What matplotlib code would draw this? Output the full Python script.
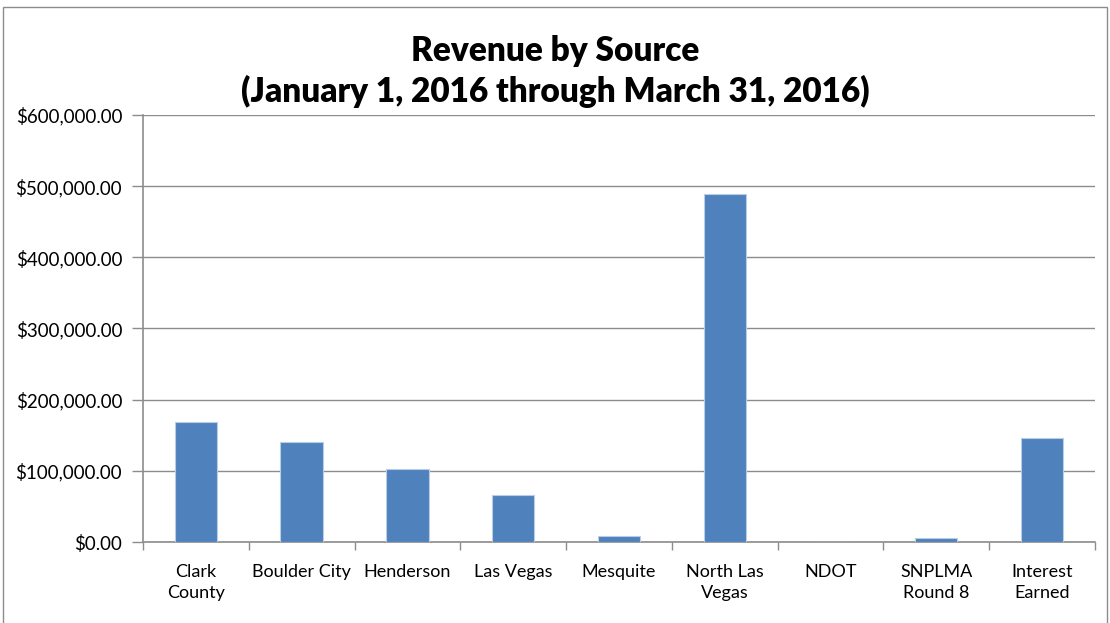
"""Revenue by source, Jan 1 - Mar 31 2016 (Excel-style column chart)."""

import matplotlib.pyplot as plt
import numpy as np
from matplotlib.patches import Rectangle
from matplotlib.ticker import FuncFormatter, MultipleLocator

SOURCES = [
    "Clark\nCounty",
    "Boulder City",
    "Henderson",
    "Las Vegas",
    "Mesquite",
    "North Las\nVegas",
    "NDOT",
    "SNPLMA\nRound 8",
    "Interest\nEarned",
]
REVENUE = [168000, 141000, 102000, 66500, 8500, 489000, 0, 5200, 145800]

TITLE = "Revenue by Source\n(January 1, 2016 through March 31, 2016)"

BAR_COLOR = "#4f81bd"
GRID_COLOR = "#8c8c8c"

plt.rcParams["font.family"] = ["Lato", "DejaVu Sans"]


def money(value, _pos):
    return f"${value:,.2f}"


def main() -> None:
    fig = plt.figure(figsize=(11.1, 6.23), dpi=100)
    ax = fig.add_axes((0.1288, 0.130, 0.8577, 0.6855))

    x = np.arange(len(SOURCES))
    ax.bar(x, REVENUE, width=0.4, color=BAR_COLOR, edgecolor="#b9cde5",
           linewidth=0.8, zorder=3)

    ax.set_xlim(-0.5, len(SOURCES) - 0.5)
    ax.set_ylim(0, 600000)
    ax.yaxis.set_major_locator(MultipleLocator(100000))
    ax.yaxis.set_major_formatter(FuncFormatter(money))
    ax.grid(axis="y", color=GRID_COLOR, linewidth=1.0, zorder=0)

    # category labels centred, tick marks between categories
    ax.set_xticks(x)
    ax.set_xticklabels(SOURCES, fontsize=13, linespacing=1.4)
    ax.tick_params(axis="x", length=0, pad=16)
    ax.set_xticks(np.arange(len(SOURCES) + 1) - 0.5, minor=True)
    ax.tick_params(axis="x", which="minor", length=6, color=GRID_COLOR, width=1)
    ax.tick_params(axis="y", length=8, color=GRID_COLOR, width=1,
                   labelsize=13.5, pad=7)

    for side in ("top", "right"):
        ax.spines[side].set_visible(False)
    for side in ("left", "bottom"):
        ax.spines[side].set_color(GRID_COLOR)
        ax.spines[side].set_linewidth(1.2)

    fig.text(0.5, 0.826, TITLE, ha="center", va="bottom", fontsize=24,
             fontweight="heavy", linespacing=1.3)

    fig.patches.append(Rectangle((0.003, -0.02), 0.994, 1.008, transform=fig.transFigure,
                                 fill=False, edgecolor="#8c8c8c", linewidth=1.0))

    fig.savefig("out.png", dpi=100)
    plt.close(fig)


if __name__ == "__main__":
    main()
